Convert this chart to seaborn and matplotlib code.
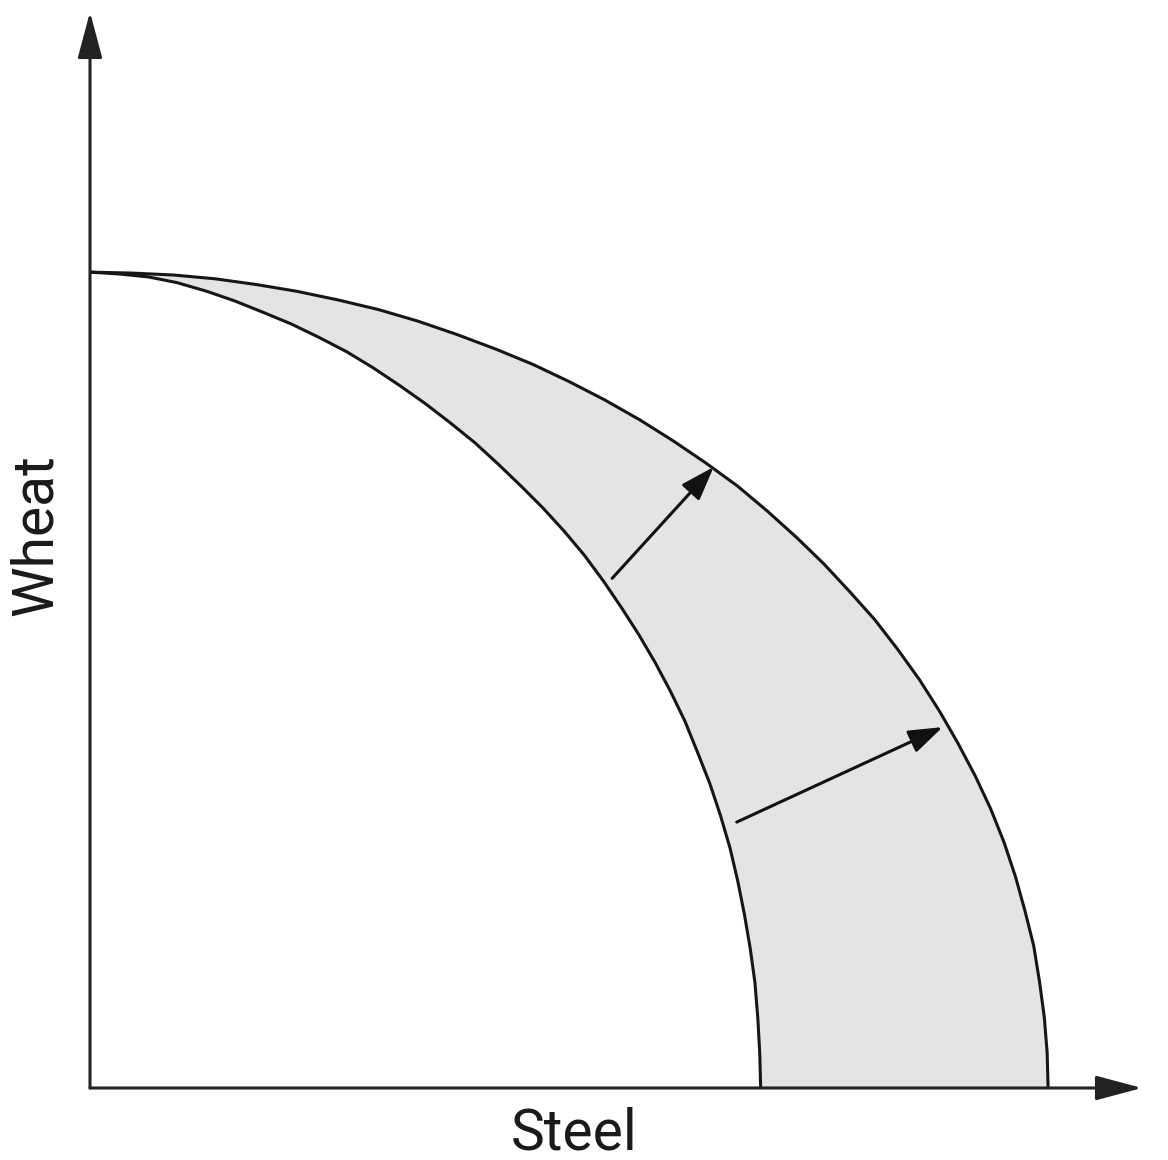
import matplotlib
matplotlib.use("Agg")
import matplotlib.pyplot as plt
import seaborn as sns
import pandas as pd

# production possibilities frontier
# old frontier (inner)
inner_steel = [0, 0.31, 0.61, 0.91, 1.22, 1.51, 1.81, 2.10, 2.39, 2.68, 2.96, 3.23, 3.50,
               3.76, 4.02, 4.26, 4.50, 4.73, 4.95, 5.16, 5.36, 5.55, 5.73, 5.90, 6.06,
               6.21, 6.34, 6.47, 6.58, 6.68, 6.76, 6.83, 6.89, 6.94, 6.97, 6.99, 7.0]
inner_wheat = [8.5, 8.48, 8.45, 8.39, 8.30, 8.20, 8.08, 7.96, 7.82, 7.67, 7.50, 7.32, 7.13,
               6.93, 6.72, 6.50, 6.27, 6.04, 5.80, 5.55, 5.28, 5.00, 4.72, 4.43, 4.13,
               3.82, 3.50, 3.17, 2.84, 2.50, 2.16, 1.81, 1.46, 1.10, 0.73, 0.37, 0]
# new frontier (outer)
outer_steel = [0, 0.44, 0.87, 1.31, 1.74, 2.16, 2.59, 3.01, 3.42, 3.83, 4.23, 4.62, 5.00,
               5.37, 5.74, 6.09, 6.43, 6.76, 7.07, 7.37, 7.66, 7.93, 8.19, 8.43, 8.66,
               8.87, 9.06, 9.24, 9.40, 9.54, 9.66, 9.76, 9.85, 9.91, 9.96, 9.99, 10.0]
outer_wheat = [8.5, 8.49, 8.47, 8.43, 8.37, 8.30, 8.21, 8.11, 7.99, 7.85, 7.70, 7.54, 7.36,
               7.17, 6.96, 6.74, 6.51, 6.27, 6.01, 5.74, 5.46, 5.17, 4.88, 4.57, 4.25,
               3.92, 3.59, 3.25, 2.91, 2.56, 2.20, 1.84, 1.48, 1.11, 0.74, 0.37, 0]

# shift arrows (start -> end)
arrow_start = [(5.45, 5.31), (6.75, 2.77)]
arrow_end = [(6.51, 6.47), (8.90, 3.76)]

x_max, y_max = 10.98, 11.21

sns.set_style("white")
plt.rcParams['font.family'] = ['Roboto', 'DejaVu Sans']

fig = plt.figure(figsize=(11.68, 11.60), dpi=100)
ax = fig.add_axes([90 / 1168, 72 / 1160, 1052 / 1168, 1076 / 1160])

# shaded band between the two frontiers
band_x = outer_steel + inner_steel[::-1]
band_y = outer_wheat + inner_wheat[::-1]
ax.fill(band_x, band_y, color="#e4e4e4", lw=0, zorder=1)

inner = pd.DataFrame({"Steel": inner_steel, "Wheat": inner_wheat})
outer = pd.DataFrame({"Steel": outer_steel, "Wheat": outer_wheat})
for df in (inner, outer):
    sns.lineplot(data=df, x="Steel", y="Wheat", sort=False, estimator=None,
                 color="#161616", lw=2.2, ax=ax, zorder=3)

for s, e in zip(arrow_start, arrow_end):
    ax.annotate("", xy=e, xytext=s,
                arrowprops=dict(arrowstyle="-|>,head_length=1.3,head_width=0.45",
                                mutation_scale=16, lw=2.2, color="#111111",
                                shrinkA=0, shrinkB=0), zorder=4)

# axes with arrow heads
ax.set_xlim(0, x_max)
ax.set_ylim(0, y_max)
for sp in ax.spines.values():
    sp.set_visible(False)
ax.set_xticks([])
ax.set_yticks([])
ax.set_xlabel("")
ax.set_ylabel("")
for tip in [(x_max, 0), (0, y_max)]:
    ax.annotate("", xy=tip, xytext=(0, 0), annotation_clip=False,
                arrowprops=dict(arrowstyle="-|>,head_length=1.5,head_width=0.4",
                                mutation_scale=19, lw=2.2, color="#222222",
                                shrinkA=0, shrinkB=0), zorder=5)

fig.text(574 / 1168, 1 - 1134 / 1160, "Steel", fontsize=41, color="#1a1a1a",
         ha="center", va="center")
fig.text(36 / 1168, 1 - 535 / 1160, "Wheat", fontsize=41, color="#1a1a1a",
         ha="center", va="center", rotation=90)

fig.savefig("out.png", dpi=100, facecolor="white")
